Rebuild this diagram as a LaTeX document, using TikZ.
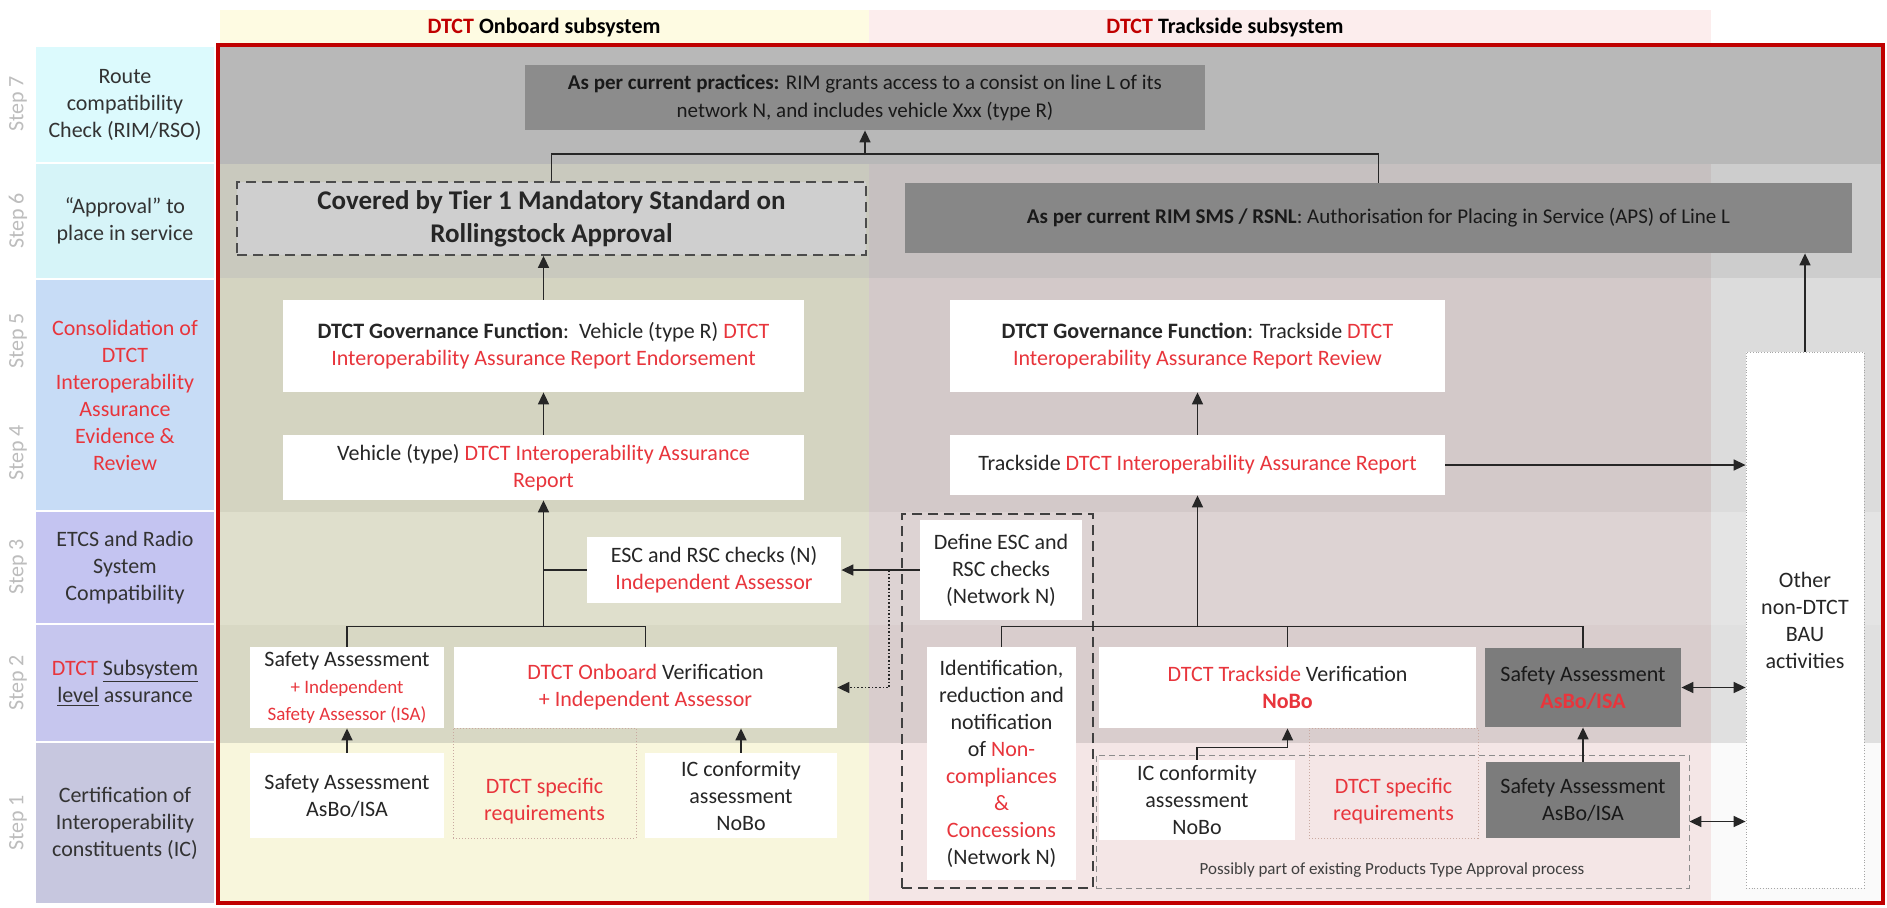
\documentclass[tikz,border=0pt]{standalone}
\usepackage{fontspec}
\setmainfont{Carlito}
\usepackage{tikz}
\usetikzlibrary{arrows.meta}
\definecolor{frame}{HTML}{C00000}
\definecolor{txred}{HTML}{E8353C}
\definecolor{stepgray}{HTML}{BDBDBD}
\definecolor{hy}{HTML}{FEFBE2}
\definecolor{hp}{HTML}{FCEDED}
\definecolor{l7}{HTML}{DCFAFD}
\definecolor{l6}{HTML}{D6F4F8}
\definecolor{l54}{HTML}{C7DCF6}
\definecolor{l3}{HTML}{C4C4F1}
\definecolor{l2}{HTML}{C6C6EE}
\definecolor{l1}{HTML}{C7C7DF}
\definecolor{r7}{HTML}{B8B8B8}
\definecolor{o6}{HTML}{C9C9BE}
\definecolor{t6}{HTML}{C6C0C0}
\definecolor{g6}{HTML}{CDCDCD}
\definecolor{o54}{HTML}{D4D4C1}
\definecolor{t54}{HTML}{D3C9C9}
\definecolor{g54}{HTML}{DCDCDC}
\definecolor{o3}{HTML}{DFDFCC}
\definecolor{t3}{HTML}{DDD3D3}
\definecolor{g3}{HTML}{E4E4E4}
\definecolor{o2}{HTML}{D8D8C4}
\definecolor{t2}{HTML}{D9CDCD}
\definecolor{g2}{HTML}{E0E0E0}
\definecolor{o1}{HTML}{F8F6DC}
\definecolor{t1}{HTML}{F4E6E6}
\definecolor{g1}{HTML}{FAFAFA}
\definecolor{boxdark}{HTML}{7C7C7C}
\definecolor{specline}{HTML}{C9A9A0}
\newcommand{\rd}[1]{\textcolor{txred}{#1}}

\begin{document}
\begin{tikzpicture}[x=0.5pt,y=-0.5pt,
  font=\fontsize{11}{13.5}\selectfont,
  >={Triangle[length=6pt,width=5.5pt]},
  conn/.style={draw=black!85,line width=0.8pt},
  wbox/.style={fill=white,inner sep=1pt,align=center,text=black!85},
  gbox/.style={fill=boxdark,inner sep=1pt,align=center,text=black!90},
  spec/.style={draw=specline,densely dotted,line width=0.5pt},
  lab/.style={align=center,inner sep=0pt,minimum width=89pt,text=black!80},
  steptxt/.style={rotate=90,text=stepgray}]
\useasboundingbox (0,0) rectangle (1887,907);
\fill[white] (0,0) rectangle (1887,907);
\fill[hy] (220,10) rectangle (869,45);
\fill[hp] (869,10) rectangle (1711,45);
\node[font=\fontsize{11}{13.5}\selectfont\bfseries] (hdon) at (544,28) {\textcolor{frame}{DTCT} Onboard subsystem};
\node[font=\fontsize{11}{13.5}\selectfont\bfseries] (hdtr) at (1225,28) {\textcolor{frame}{DTCT} Trackside subsystem};

\node[steptxt] (st7) at (18,104) {Step 7};
\node[steptxt] (st6) at (18,221) {Step 6};
\node[steptxt] (st5) at (18,341) {Step 5};
\node[steptxt] (st4) at (18,453) {Step 4};
\node[steptxt] (st3) at (18,567) {Step 3};
\node[steptxt] (st2) at (18,683) {Step 2};
\node[steptxt] (st1) at (18,823) {Step 1};

\node[lab,fill=l7,minimum height=57.5pt] (lab7) at (125,104.5) {Route\\compatibility\\Check (RIM/RSO)};
\node[lab,fill=l6,minimum height=57pt] (lab6) at (125,221) {“Approval” to\\place in service};
\node[lab,fill=l54,minimum height=115pt,text=txred] (lab54) at (125,395) {Consolidation of\\DTCT\\Interoperability\\Assurance\\Evidence \&\\Review};
\node[lab,fill=l3,minimum height=55.5pt] (lab3) at (125,567.5) {ETCS and Radio\\System\\Compatibility};
\node[lab,fill=l2,minimum height=58pt] (lab2) at (125,683) {\rd{DTCT} \underline{Subsystem}\\\underline{level} assurance};
\node[lab,fill=l1,minimum height=80pt] (lab1) at (125,823) {Certification of\\Interoperability\\constituents (IC)};

\fill[r7] (218,45) rectangle (1883,164);
\fill[o6] (218,164) rectangle (869,278);
\fill[t6] (869,164) rectangle (1711,278);
\fill[g6] (1711,164) rectangle (1883,278);
\fill[o54] (218,278) rectangle (869,512);
\fill[t54] (869,278) rectangle (1711,512);
\fill[g54] (1711,278) rectangle (1883,512);
\fill[o3] (218,512) rectangle (869,625);
\fill[t3] (869,512) rectangle (1711,625);
\fill[g3] (1711,512) rectangle (1883,625);
\fill[o2] (218,625) rectangle (869,743);
\fill[t2] (869,625) rectangle (1711,743);
\fill[g2] (1711,625) rectangle (1883,743);
\fill[o1] (218,743) rectangle (869,903);
\fill[t1] (869,743) rectangle (1711,903);
\fill[g1] (1711,743) rectangle (1883,903);
\draw[frame,line width=1.6pt] (218,45) rectangle (1883,903);

\node[gbox,fill=black!45,minimum width=340pt,minimum height=32.5pt,font=\fontsize{10.5}{14}\selectfont] (prac) at (865,97.5) {\textbf{As per current practices:} RIM grants access to a consist on line L of its\\network N, and includes vehicle Xxx (type R)};
\node[align=center,fill=black!19,draw=black!70,dash pattern=on 5pt off 3pt,line width=0.9pt,minimum width=314.5pt,minimum height=36.5pt,font=\fontsize{13.5}{16.5}\selectfont\bfseries,text=black!85] (cov) at (551.5,218.5) {Covered by Tier 1 Mandatory Standard on\\Rollingstock Approval};
\node[gbox,fill=black!47,minimum width=473.5pt,minimum height=35pt,font=\fontsize{10.5}{14}\selectfont] (rim) at (1378.5,218) {\textbf{As per current RIM SMS / RSNL}: Authorisation for Placing in Service (APS) of Line L};

\node[wbox,minimum width=260.5pt,minimum height=46pt] (gob) at (543.5,346) {\textbf{DTCT Governance Function}:~~Vehicle (type R) \rd{DTCT}\\\rd{Interoperability Assurance Report Endorsement}};
\node[wbox,minimum width=247.5pt,minimum height=46pt] (gtr) at (1197.5,346) {\textbf{DTCT Governance Function}: Trackside \rd{DTCT}\\\rd{Interoperability Assurance Report Review}};
\node[wbox,minimum width=260.5pt,minimum height=32.5pt] (rob) at (543.5,467.5) {Vehicle (type) \rd{DTCT Interoperability Assurance}\\\rd{Report}};
\node[wbox,minimum width=247.5pt,minimum height=30pt] (rtr) at (1197.5,465) {Trackside \rd{DTCT Interoperability Assurance Report}};

\node[wbox,minimum width=127pt,minimum height=33pt] (esc) at (714,570) {ESC and RSC checks (N)\\\rd{Independent Assessor}};
\node[draw=black!75,dash pattern=on 5pt off 3pt,line width=0.9pt,minimum width=95.5pt,minimum height=187pt] (defz) at (997.5,701) {};
\node[wbox,minimum width=81pt,minimum height=50pt] (def) at (1001,570) {Define ESC and\\RSC checks\\(Network N)};
\node[wbox,minimum width=74.5pt,minimum height=116.5pt] (idn) at (1001.5,763.5) {Identification,\\reduction and\\notification\\of \rd{Non-}\\\rd{compliances}\\\rd{\&}\\\rd{Concessions}\\(Network N)};

\node[spec,minimum width=91.5pt,minimum height=55pt] (spo) at (544.5,783) {};
\node[text=txred,align=center] (spot) at (544.5,801) {DTCT specific\\requirements};
\node[wbox,minimum width=97pt,minimum height=40.5pt] (sao) at (347,687.5) {Safety Assessment\\{\fontsize{9.5}{13.5}\selectfont\rd{+ Independent}}\\{\fontsize{9.5}{13.5}\selectfont\rd{Safety Assessor (ISA)}}};
\node[wbox,minimum width=191.5pt,minimum height=40.5pt] (vob) at (645.5,687.5) {\rd{DTCT Onboard} Verification\\\rd{+ Independent Assessor}};
\node[wbox,minimum width=97pt,minimum height=42.5pt] (sa1) at (347,795.5) {Safety Assessment\\AsBo/ISA};
\node[wbox,minimum width=96pt,minimum height=42.5pt] (ico) at (741,795.5) {IC conformity\\assessment\\NoBo};

\node[draw=black!45,dash pattern=on 3pt off 2pt,line width=0.4pt,minimum width=296.5pt,minimum height=66.5pt] (ptz) at (1392.5,821.5) {};
\node[font=\fontsize{8.5}{10}\selectfont,text=black!75] (ppt) at (1392,870) {Possibly part of existing Products Type Approval process};
\node[spec,minimum width=84.5pt,minimum height=55pt] (spt) at (1393.5,783) {};
\node[text=txred,align=center] (sptt) at (1393.5,801) {DTCT specific\\requirements};
\node[wbox,minimum width=188.5pt,minimum height=40.5pt] (tve) at (1287.5,687.5) {\rd{DTCT Trackside} Verification\\\rd{\textbf{NoBo}}};
\node[gbox,minimum width=98pt,minimum height=39.5pt] (sad2) at (1583,687.5) {Safety Assessment\\\rd{\textbf{AsBo/ISA}}};
\node[wbox,minimum width=98pt,minimum height=40pt] (ict) at (1197,800) {IC conformity\\assessment\\NoBo};
\node[gbox,minimum width=97pt,minimum height=38pt] (sad1) at (1583,800) {Safety Assessment\\AsBo/ISA};

\node[wbox,draw=black!35,densely dotted,minimum width=59pt,minimum height=268pt] (oth) at (1805,620) {Other\\non-DTCT\\BAU\\activities};

\coordinate (j7) at (865,155);
\coordinate (j2o) at (543.5,627);
\coordinate (j2t) at (1197.5,627);
\coordinate (jd) at (889,570);

\draw[conn] (cov.north) -- ++(0,-27) -| (rim.north);
\draw[conn,->] (prac.south |- j7) -- (prac.south);
\draw[conn,->] (gob.north) -- (cov.south -| gob.north);
\draw[conn,->] (rob.north) -- (gob.south);
\draw[conn] (sao.north) -- ++(0,-20) -| (vob.north);
\draw[conn,->] (j2o) -- (rob.south);
\draw[conn] (esc.west) -- (esc.west -| rob.south);
\draw[conn,->] (def.west) -- (esc.east);
\draw[conn,densely dotted,->] (jd) |- (vob.east);
\draw[conn] (idn.north) -- ++(0,-20) -| (sad2.north);
\draw[conn] (tve.north) -- ++(0,-20);
\draw[conn,->] (j2t) -- (rtr.south);
\draw[conn,->] (rtr.north) -- (gtr.south);
\draw[conn,->] (rtr.east) -- (rtr.east -| oth.west);
\draw[conn,->] (oth.north) -- (oth.north |- rim.south);
\draw[conn,<->] (sad2.east) -- (sad2.east -| oth.west);
\draw[conn,<->] (ptz.east) -- (ptz.east -| oth.west);
\draw[conn,->] (sa1.north) -- (sao.south);
\draw[conn,->] (ico.north) -- (ico.north |- vob.south);
\draw[conn,->] (ict.north) -- ++(0,-12) -| (tve.south);
\draw[conn,->] (sad1.north) -- (sad2.south);
\end{tikzpicture}
\end{document}
